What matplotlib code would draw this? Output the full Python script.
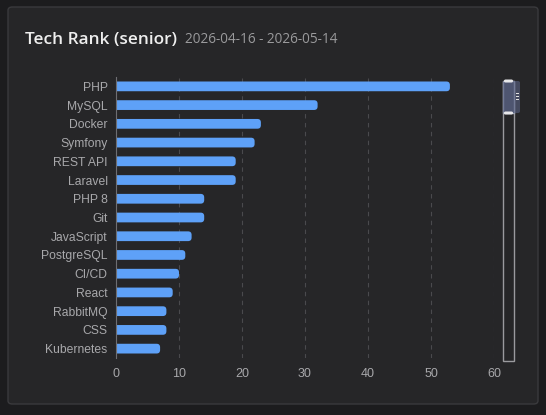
import matplotlib
matplotlib.use("Agg")
import matplotlib.pyplot as plt
from matplotlib.patches import FancyBboxPatch, Rectangle

# data
techs = ["PHP", "MySQL", "Docker", "Symfony", "REST API", "Laravel", "PHP 8", "Git",
         "JavaScript", "PostgreSQL", "CI/CD", "React", "RabbitMQ", "CSS", "Kubernetes"]
counts = [53, 32, 23, 22, 19, 19, 14, 14, 12, 11, 10, 9, 8, 8, 7]
x_ticks = [0, 10, 20, 30, 40, 50, 60]

title = "Tech Rank (senior)"
subtitle = "2026-04-16 - 2026-05-14"

W, H = 546, 415
fig = plt.figure(figsize=(W / 100, H / 100), dpi=100)
fig.patch.set_facecolor("#1c1c1e")

# card background
card = FancyBboxPatch((8 / W, 1 - 404 / H), 530 / W, 397 / H,
                      boxstyle="round,pad=0,rounding_size=0.008",
                      transform=fig.transFigure, facecolor="#262628",
                      edgecolor="#3a3a3d", linewidth=1, zorder=-10)
fig.add_artist(card)

fig.text(25 / W, 1 - 39.5 / H, title, color="#eeeeee", fontsize=12.4,
         fontweight="semibold", family="Open Sans", va="center", ha="left")
fig.text(185 / W, 1 - 39.5 / H, subtitle, color="#9a9a9c", fontsize=9.8,
         family="Open Sans", va="center", ha="left")

x0, x1, y0, y1 = 116, 494, 77, 358
ax = fig.add_axes([x0 / W, 1 - y1 / H, (x1 - x0) / W, (y1 - y0) / H])
ax.set_facecolor("none")
n = len(techs)
ax.set_xlim(0, 60)
ax.set_ylim(n - 0.5, -0.5)

px_x = (x1 - x0) / 60
px_y = (y1 - y0) / n
r = 3.5 / px_x
bar_h = 0.52
for i, v in enumerate(counts):
    p = FancyBboxPatch((-2, i - bar_h / 2), v + 2, bar_h,
                       boxstyle=f"round,pad=0,rounding_size={r}",
                       mutation_aspect=px_x / px_y,
                       facecolor="#5ea1f8", edgecolor="none", zorder=3)
    ax.add_patch(p)

ax.set_xticks(x_ticks)
ax.set_yticks(range(n))
ax.set_yticklabels(techs)
ax.grid(axis="x", color="#4a4a4d", linestyle=(0, (4, 4)), linewidth=0.8, zorder=0)
for s in ["top", "right", "bottom"]:
    ax.spines[s].set_visible(False)
ax.spines["left"].set_color("#6e6e72")
ax.spines["left"].set_zorder(4)
ax.tick_params(axis="both", length=0, colors="#a8a8ab", labelsize=9)
ax.tick_params(axis="y", pad=6, labelsize=8.7)
ax.tick_params(axis="x", pad=7)
for lab in ax.get_xticklabels() + ax.get_yticklabels():
    lab.set_family("Liberation Sans")

# data zoom slider on the right
sx, sw = 503, 11
fig.add_artist(Rectangle((sx / W, 1 - 361 / H), sw / W, (361 - 81) / H,
                         transform=fig.transFigure, facecolor="none",
                         edgecolor="#9a9a9e", linewidth=1))
fig.add_artist(Rectangle((sx / W, 1 - 113 / H), sw / W, 32 / H,
                         transform=fig.transFigure, facecolor="#3d4253",
                         edgecolor="#9aa0b0", linewidth=1))
fig.add_artist(FancyBboxPatch((sx / W, 1 - 113 / H), 17 / W, 32 / H,
                              boxstyle="round,pad=0,rounding_size=0.004",
                              transform=fig.transFigure, facecolor="#5a6385",
                              edgecolor="none", alpha=0.6))
for yy in (81, 113):
    fig.add_artist(FancyBboxPatch(((sx + 1) / W, 1 - (yy + 1.5) / H), (sw - 2) / W, 3 / H,
                                  boxstyle="round,pad=0,rounding_size=0.003",
                                  transform=fig.transFigure, facecolor="#e8e8ea",
                                  edgecolor="none"))
for yy in (94, 97, 100):
    fig.add_artist(Rectangle((516 / W, 1 - yy / H), 3 / W, 1 / H,
                             transform=fig.transFigure, facecolor="#e0e0e0",
                             edgecolor="none"))

fig.savefig("out.png", dpi=100, facecolor=fig.get_facecolor())
